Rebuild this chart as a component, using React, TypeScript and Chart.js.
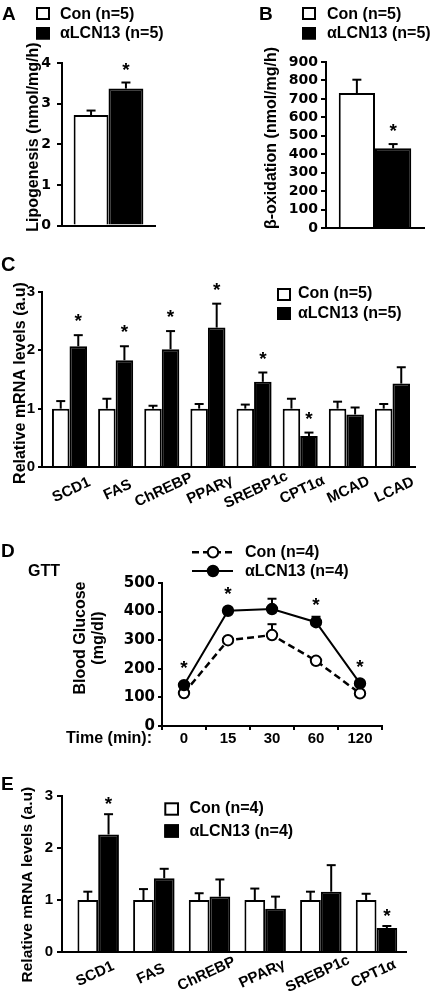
import React, { useEffect, useRef } from 'react';
import { Chart, registerables } from 'chart.js';

Chart.register(...registerables);

const FONT = "'Liberation Sans', Arial, Helvetica, sans-serif";
const WIDE = "'DejaVu Sans', 'Liberation Sans', sans-serif";
Chart.defaults.font.family = FONT;
Chart.defaults.color = '#000';

// ---------------- data ----------------
const conLabel5 = 'Con (n=5)';
const lcnLabel5 = 'αLCN13 (n=5)';
const conLabel4 = 'Con (n=4)';
const lcnLabel4 = 'αLCN13 (n=4)';

// Panel A – lipogenesis
const aCategories = [''];
const aCon = [2.72];
const aConErr = [0.11];
const aLcn = [3.37];
const aLcnErr = [0.15];
const aStars = [true];

// Panel B – beta oxidation
const bCategories = [''];
const bCon = [732];
const bConErr = [72];
const bLcn = [432];
const bLcnErr = [23];
const bStars = [true];

// Panel C – liver mRNA (n=5)
const cGenes = ['SCD1', 'FAS', 'ChREBP', 'PPARγ', 'SREBP1c', 'CPT1α', 'MCAD', 'LCAD'];
const cCon = [1, 1, 1, 1, 1, 1, 1, 1];
const cConErr = [0.13, 0.17, 0.05, 0.08, 0.07, 0.17, 0.12, 0.08];
const cLcn = [2.07, 1.83, 2.02, 2.39, 1.46, 0.53, 0.9, 1.43];
const cLcnErr = [0.19, 0.24, 0.31, 0.41, 0.16, 0.06, 0.12, 0.28];
const cStars = [true, true, true, true, true, true, false, false];

// Panel D – GTT
const dTimes = ['0', '15', '30', '60', '120'];
const dCon = [115, 300, 318, 228, 114];
const dConErr = [6, 8, 38, 8, 6];
const dLcn = [143, 403, 409, 363, 149];
const dLcnErr = [6, 8, 36, 19, 6];
const dStars = [true, true, false, true, true];

// Panel E – mRNA (n=4)
const eGenes = ['SCD1', 'FAS', 'ChREBP', 'PPARγ', 'SREBP1c', 'CPT1α'];
const eCon = [1, 1, 1, 1, 1, 1];
const eConErr = [0.16, 0.21, 0.13, 0.22, 0.16, 0.12];
const eLcn = [2.26, 1.42, 1.065, 0.83, 1.16, 0.46];
const eLcnErr = [0.39, 0.18, 0.33, 0.235, 0.51, 0.04];
const eStars = [true, false, false, false, false, true];

// ---------------- drawing helpers ----------------
type TextItem = { t: string; x: number; y: number; size?: number; rot?: number; align?: CanvasTextAlign };
type Box = { x: number; y: number; w: number; h: number; fill: string };
type LegLine = { x1: number; x2: number; y: number; dash?: number[]; w: number };
type Dot = { x: number; y: number; fill: string };
interface Decor {
  texts: TextItem[];
  boxes?: Box[];
  legLines?: LegLine[];
  dots?: Dot[];
  errors: (number[] | null)[];
  errorsBehind?: boolean;
  stars?: { ds: number; flags: boolean[]; gap: number; errs: number[] | null };
  xLabels?: { labels: string[]; y: number; dx: number; rot: number; size: number };
}

const CAP = 9;

function rawY(raw: any): number {
  return typeof raw === 'number' ? raw : raw.y;
}

function drawErrors(chart: any, errors: (number[] | null)[]) {
  const ctx: CanvasRenderingContext2D = chart.ctx;
  const ys = chart.scales.y;
  ctx.save();
  ctx.strokeStyle = '#000';
  ctx.lineWidth = 2;
  errors.forEach((errs, di) => {
    if (!errs) return;
    const meta = chart.getDatasetMeta(di);
    const data = chart.data.datasets[di].data as any[];
    meta.data.forEach((el: any, j: number) => {
      const e = errs[j];
      if (!e) return;
      const v = rawY(data[j]);
      const x = el.x;
      const y0 = ys.getPixelForValue(v);
      const y1 = ys.getPixelForValue(v + e);
      ctx.beginPath();
      ctx.moveTo(x, y0);
      ctx.lineTo(x, y1);
      ctx.stroke();
      ctx.beginPath();
      ctx.moveTo(x - CAP / 2, y1);
      ctx.lineTo(x + CAP / 2, y1);
      ctx.stroke();
    });
  });
  ctx.restore();
}

function drawText(ctx: CanvasRenderingContext2D, it: TextItem) {
  ctx.save();
  ctx.fillStyle = '#000';
  ctx.font = `bold ${it.size ?? 16}px ${FONT}`;
  ctx.textBaseline = 'middle';
  ctx.textAlign = it.align ?? (it.rot ? 'center' : 'left');
  ctx.translate(it.x, it.y);
  if (it.rot) ctx.rotate((it.rot * Math.PI) / 180);
  ctx.fillText(it.t, 0, 0);
  ctx.restore();
}

function makeDecor(d: Decor) {
  return {
    id: 'decor',
    beforeDatasetsDraw(chart: any) {
      if (d.errorsBehind) drawErrors(chart, d.errors);
    },
    afterDatasetsDraw(chart: any) {
      if (!d.errorsBehind) drawErrors(chart, d.errors);
    },
    afterDraw(chart: any) {
      const ctx: CanvasRenderingContext2D = chart.ctx;
      ctx.save();
      (d.boxes ?? []).forEach((b) => {
        ctx.fillStyle = b.fill;
        ctx.fillRect(b.x, b.y, b.w, b.h);
        ctx.strokeStyle = '#000';
        ctx.lineWidth = 2;
        ctx.strokeRect(b.x + 1, b.y + 1, b.w - 2, b.h - 2);
      });
      (d.legLines ?? []).forEach((l) => {
        ctx.beginPath();
        ctx.setLineDash(l.dash ?? []);
        ctx.strokeStyle = '#000';
        ctx.lineWidth = l.w;
        ctx.moveTo(l.x1, l.y);
        ctx.lineTo(l.x2, l.y);
        ctx.stroke();
      });
      ctx.setLineDash([]);
      (d.dots ?? []).forEach((p) => {
        ctx.beginPath();
        ctx.arc(p.x, p.y, 5.2, 0, Math.PI * 2);
        ctx.fillStyle = p.fill;
        ctx.fill();
        ctx.lineWidth = 2;
        ctx.strokeStyle = '#000';
        ctx.stroke();
      });
      ctx.restore();
      d.texts.forEach((t) => drawText(ctx, t));
      if (d.xLabels) {
        const xs = chart.scales.x;
        const xl = d.xLabels;
        xl.labels.forEach((lab, i) => {
          drawText(ctx, { t: lab, x: xs.getPixelForValue(i) + xl.dx, y: xl.y, size: xl.size, rot: xl.rot, align: 'center' });
        });
      }
      if (d.stars) {
        const s = d.stars;
        const ys = chart.scales.y;
        const meta = chart.getDatasetMeta(s.ds);
        const data = chart.data.datasets[s.ds].data as any[];
        ctx.save();
        ctx.fillStyle = '#000';
        ctx.font = `bold 19px ${FONT}`;
        ctx.textAlign = 'center';
        ctx.textBaseline = 'alphabetic';
        meta.data.forEach((el: any, j: number) => {
          if (!s.flags[j]) return;
          const v = rawY(data[j]) + (s.errs ? s.errs[j] : 0);
          const cy = ys.getPixelForValue(v) - s.gap;
          ctx.fillText('*', el.x, cy + 0.585 * 19);
        });
        ctx.restore();
      }
    },
  };
}

function yAxis(max: number, step: number, width: number, font: any, tickLength: number, padding: number) {
  return {
    type: 'linear',
    min: 0,
    max,
    ticks: { stepSize: step, font, color: '#000', padding, autoSkip: false },
    grid: { drawOnChartArea: false, drawTicks: true, tickLength, color: '#000', lineWidth: 2 },
    border: { display: true, color: '#000', width: 2 },
    afterFit: (s: any) => {
      s.width = width;
    },
  };
}

const axisBorder = { display: true, color: '#000', width: 2 };
const basePlugins = { legend: { display: false }, tooltip: { enabled: false } };

const conBar = { backgroundColor: '#fff', borderColor: '#000', borderWidth: 2 };
const lcnBar = { backgroundColor: '#000', borderColor: '#000', borderWidth: 2 };

// ---------------- chart configs ----------------
function configA(): any {
  return {
    type: 'bar',
    data: {
      labels: aCategories,
      datasets: [
        { label: conLabel5, data: aCon, ...conBar, categoryPercentage: 0.75, barPercentage: 1 },
        { label: lcnLabel5, data: aLcn, ...lcnBar, categoryPercentage: 0.75, barPercentage: 1 },
      ],
    },
    options: {
      responsive: false,
      animation: false,
      events: [],
      layout: { padding: { left: 0, top: 63, right: 61, bottom: 12 } },
      plugins: basePlugins,
      scales: {
        x: { type: 'category', offset: true, ticks: { display: false }, grid: { display: false }, border: axisBorder, afterFit: (s: any) => { s.height = 0; } },
        y: yAxis(4, 1, 62, { family: WIDE, size: 14, weight: 'bold' }, 5, 6),
      },
    },
    plugins: [
      makeDecor({
        texts: [
          { t: 'A', x: 2, y: 15, size: 19 },
          { t: conLabel5, x: 60, y: 14.2 },
          { t: lcnLabel5, x: 60, y: 33.8 },
          { t: 'Lipogenesis (nmol/mg/h)', x: 33.5, y: 137, rot: -90 },
        ],
        boxes: [
          { x: 36, y: 7, w: 14, h: 13, fill: '#fff' },
          { x: 36, y: 27, w: 14, h: 12.5, fill: '#000' },
        ],
        errors: [aConErr, aLcnErr],
        stars: { ds: 1, flags: aStars, gap: 18, errs: aLcnErr },
      }),
    ],
  };
}

function configB(): any {
  return {
    type: 'bar',
    data: {
      labels: bCategories,
      datasets: [
        { label: conLabel5, data: bCon, ...conBar, categoryPercentage: 0.74, barPercentage: 1 },
        { label: lcnLabel5, data: bLcn, ...lcnBar, categoryPercentage: 0.74, barPercentage: 1 },
      ],
    },
    options: {
      responsive: false,
      animation: false,
      events: [],
      layout: { padding: { left: 0, top: 62, right: 8, bottom: 12 } },
      plugins: basePlugins,
      scales: {
        x: { type: 'category', offset: true, ticks: { display: false }, grid: { display: false }, border: axisBorder, afterFit: (s: any) => { s.height = 0; } },
        y: yAxis(900, 100, 110, { family: WIDE, size: 14, weight: 'bold' }, 5, 3),
      },
    },
    plugins: [
      makeDecor({
        texts: [
          { t: 'B', x: 43, y: 15, size: 19 },
          { t: conLabel5, x: 111, y: 14.2 },
          { t: lcnLabel5, x: 111, y: 33.8 },
          { t: 'β-oxidation (nmol/mg/h)', x: 56, y: 138, rot: -90 },
        ],
        boxes: [
          { x: 86, y: 7, w: 14, h: 13, fill: '#fff' },
          { x: 86, y: 27, w: 14, h: 12.5, fill: '#000' },
        ],
        errors: [bConErr, bLcnErr],
        stars: { ds: 1, flags: bStars, gap: 18, errs: bLcnErr },
      }),
    ],
  };
}

function configC(): any {
  return {
    type: 'bar',
    data: {
      datasets: [
        { label: conLabel5, data: cCon.map((v, i) => ({ x: i, y: v })), ...conBar, categoryPercentage: 0.76, barPercentage: 1 },
        { label: lcnLabel5, data: cLcn.map((v, i) => ({ x: i, y: v })), ...lcnBar, categoryPercentage: 0.76, barPercentage: 1 },
      ],
    },
    options: {
      responsive: false,
      animation: false,
      events: [],
      layout: { padding: { left: 0, top: 52, right: 17, bottom: 0 } },
      plugins: basePlugins,
      scales: {
        x: {
          type: 'linear',
          offset: false,
          min: -0.596,
          max: 7.488,
          ticks: { display: false },
          grid: { display: false, offset: false },
          border: axisBorder,
          afterBuildTicks: (s: any) => { s.ticks = cGenes.map((_, i) => ({ value: i })); },
          afterFit: (s: any) => { s.height = 53; },
        },
        y: yAxis(3, 1, 42, { family: FONT, size: 15, weight: 'bold' }, 4, 3),
      },
    },
    plugins: [
      makeDecor({
        texts: [
          { t: 'C', x: 1, y: 25, size: 20 },
          { t: conLabel5, x: 298, y: 54 },
          { t: lcnLabel5, x: 298, y: 74 },
          { t: 'Relative mRNA levels (a.u)', x: 21, y: 143, rot: -90 },
        ],
        boxes: [
          { x: 277, y: 48, w: 14, h: 13, fill: '#fff' },
          { x: 277, y: 67, w: 14, h: 13, fill: '#000' },
        ],
        errors: [cConErr, cLcnErr],
        stars: { ds: 1, flags: cStars, gap: 19, errs: cLcnErr },
        xLabels: { labels: cGenes, y: 250, dx: 2, rot: -25, size: 15 },
      }),
    ],
  };
}

function configD(): any {
  return {
    type: 'line',
    data: {
      labels: dTimes,
      datasets: [
        {
          label: conLabel4,
          data: dCon,
          borderColor: '#000',
          borderWidth: 2.5,
          borderDash: [7, 4],
          pointRadius: 5.2,
          pointBorderWidth: 2,
          pointBackgroundColor: '#fff',
          pointBorderColor: '#000',
          tension: 0,
          order: 2,
        },
        {
          label: lcnLabel4,
          data: dLcn,
          borderColor: '#000',
          borderWidth: 2,
          pointRadius: 5.2,
          pointBorderWidth: 2,
          pointBackgroundColor: '#000',
          pointBorderColor: '#000',
          tension: 0,
          order: 1,
        },
      ],
    },
    options: {
      responsive: false,
      animation: false,
      events: [],
      layout: { padding: { left: 0, top: 63, right: 50, bottom: 0 } },
      plugins: basePlugins,
      scales: {
        x: {
          type: 'category',
          offset: true,
          ticks: { font: { family: FONT, size: 15, weight: 'bold' }, color: '#000', padding: 0, maxRotation: 0, autoSkip: false },
          grid: { offset: true, drawOnChartArea: false, drawTicks: true, tickLength: 4, color: '#000', lineWidth: 2 },
          border: axisBorder,
          afterFit: (s: any) => { s.height = 24; },
        },
        y: yAxis(500, 100, 162, { family: WIDE, size: 15, weight: 'bold' }, 4, 3),
      },
    },
    plugins: [
      makeDecor({
        texts: [
          { t: 'D', x: 1, y: 31.5, size: 19 },
          { t: 'GTT', x: 28, y: 52, size: 16 },
          { t: conLabel4, x: 245, y: 32.5 },
          { t: lcnLabel4, x: 245, y: 51.5 },
          { t: 'Blood Glucose', x: 80.5, y: 118, rot: -90 },
          { t: '(mg/dl)', x: 98.5, y: 118, rot: -90 },
          { t: 'Time (min):', x: 152, y: 219, size: 16, align: 'right' },
        ],
        legLines: [
          { x1: 192, x2: 233, y: 32.3, dash: [7, 4], w: 2.5 },
          { x1: 192, x2: 233, y: 51, w: 2 },
        ],
        dots: [
          { x: 213, y: 32.3, fill: '#fff' },
          { x: 213, y: 51, fill: '#000' },
        ],
        errors: [dConErr, dLcnErr],
        errorsBehind: true,
        stars: { ds: 1, flags: dStars, gap: 22, errs: null },
      }),
    ],
  };
}

function configE(): any {
  return {
    type: 'bar',
    data: {
      datasets: [
        { label: conLabel4, data: eCon.map((v, i) => ({ x: i, y: v })), ...conBar, categoryPercentage: 0.745, barPercentage: 1 },
        { label: lcnLabel4, data: eLcn.map((v, i) => ({ x: i, y: v })), ...lcnBar, categoryPercentage: 0.745, barPercentage: 1 },
      ],
    },
    options: {
      responsive: false,
      animation: false,
      events: [],
      layout: { padding: { left: 0, top: 46, right: 26, bottom: 0 } },
      plugins: basePlugins,
      scales: {
        x: {
          type: 'linear',
          offset: false,
          min: -0.65,
          max: 5.53,
          ticks: { display: false },
          grid: { display: false, offset: false },
          border: axisBorder,
          afterBuildTicks: (s: any) => { s.ticks = eGenes.map((_, i) => ({ value: i })); },
          afterFit: (s: any) => { s.height = 50; },
        },
        y: yAxis(3, 1, 62, { family: FONT, size: 15, weight: 'bold' }, 5, 4),
      },
    },
    plugins: [
      makeDecor({
        texts: [
          { t: 'E', x: 1, y: 35, size: 19 },
          { t: conLabel4, x: 189.5, y: 59 },
          { t: lcnLabel4, x: 189.5, y: 81.7 },
          { t: 'Relative mRNA levels (a.u)', x: 27.7, y: 134.7, rot: -90, size: 15.5 },
        ],
        boxes: [
          { x: 164.3, y: 52.3, w: 14.7, h: 13.4, fill: '#fff' },
          { x: 164.3, y: 74.3, w: 14.7, h: 13.4, fill: '#000' },
        ],
        errors: [eConErr, eLcnErr],
        stars: { ds: 1, flags: eStars, gap: 15.5, errs: eLcnErr },
        xLabels: { labels: eGenes, y: 224, dx: -3, rot: -25, size: 15 },
      }),
    ],
  };
}

// ---------------- components ----------------
function Panel({ left, top, width, height, make }: { left: number; top: number; width: number; height: number; make: () => any }) {
  const ref = useRef<HTMLCanvasElement>(null);
  useEffect(() => {
    if (!ref.current) return;
    const chart = new Chart(ref.current, make());
    return () => chart.destroy();
  }, []);
  return (
    <canvas
      ref={ref}
      width={width}
      height={height}
      style={{ position: 'absolute', left, top, width, height, display: 'block' }}
    />
  );
}

export default function App() {
  return (
    <div style={{ position: 'absolute', left: 0, top: 0, width: 432, height: 1002, background: '#fff', overflow: 'hidden' }}>
      <Panel left={0} top={0} width={216} height={240} make={configA} />
      <Panel left={216} top={0} width={216} height={240} make={configB} />
      <Panel left={0} top={240} width={432} height={280} make={configC} />
      <Panel left={0} top={520} width={432} height={230} make={configD} />
      <Panel left={0} top={750} width={432} height={252} make={configE} />
    </div>
  );
}
